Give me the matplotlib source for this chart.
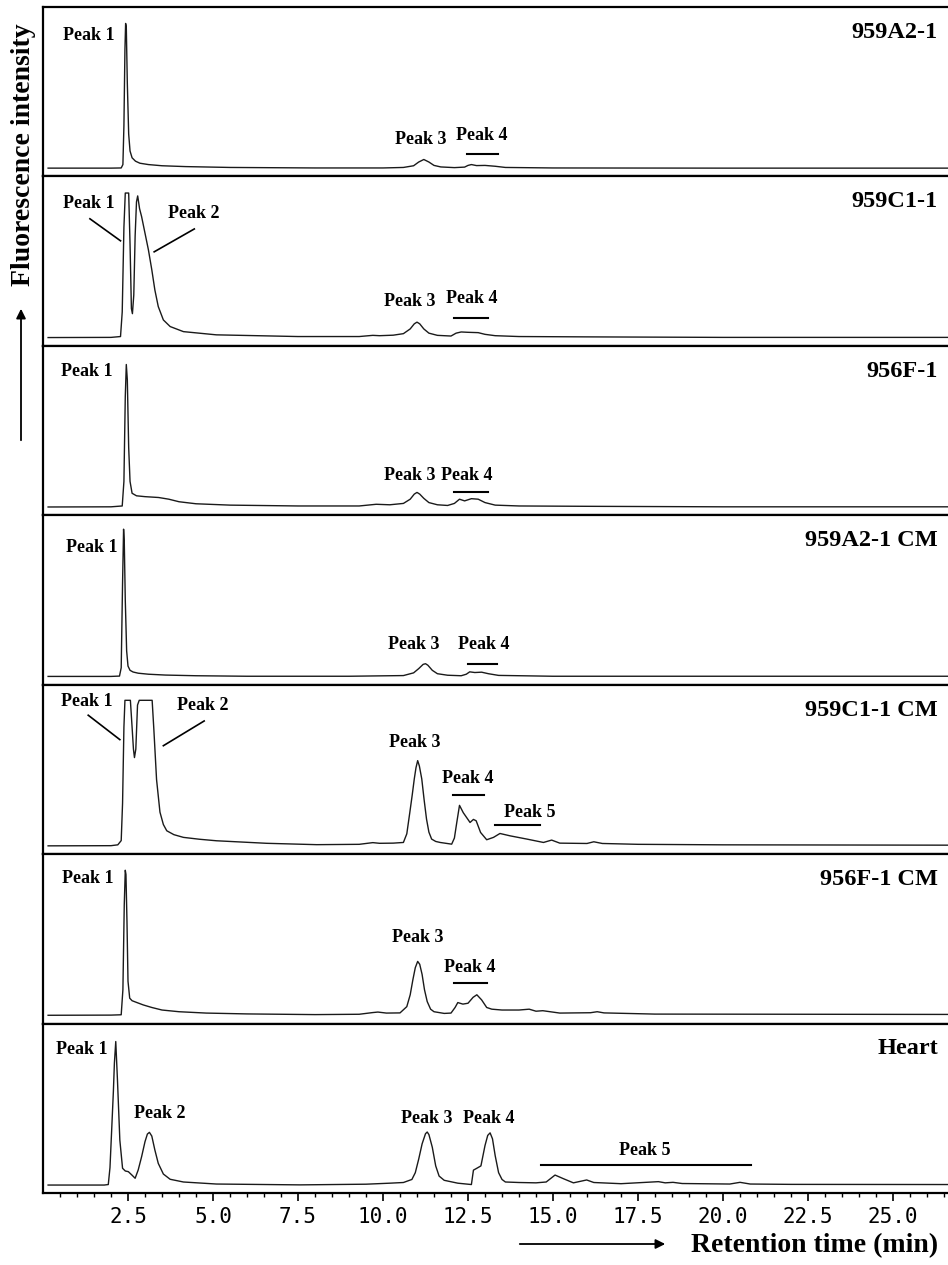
import matplotlib.pyplot as plt
import numpy as np

plt.rcParams['font.family'] = 'Liberation Serif'

samples = ["959A2-1", "959C1-1", "956F-1", "959A2-1 CM", "959C1-1 CM", "956F-1 CM", "Heart"]

# traces: time (min), intensity (% of panel height)
t_a2 = [0.15, 2.0, 2.3, 2.35, 2.38, 2.41, 2.43, 2.45, 2.48, 2.52, 2.56, 2.62, 2.72, 2.85, 3.1, 3.5, 4.2, 5.5,
        8.0, 10.0, 10.6, 10.9, 11.05, 11.2, 11.35, 11.5, 11.7, 12.1, 12.4, 12.5, 12.6, 12.75, 13.0, 13.3, 13.6,
        15.0, 20.0, 26.7]
y_a2 = [4.9, 4.9, 5.0, 7, 30, 75, 90.3, 88, 55, 25, 15, 11, 9, 7.8, 7, 6.3, 5.8, 5.3,
        5.0, 5.0, 5.3, 6.3, 8.5, 10, 8.5, 6.5, 5.6, 5.2, 5.5, 6.5, 7.0, 6.4, 6.5, 6.0, 5.3,
        5.0, 4.9, 4.9]

t_c1 = [0.15, 2.0, 2.28, 2.33, 2.38, 2.42, 2.47, 2.52, 2.56, 2.6, 2.63, 2.67, 2.71, 2.75, 2.785, 2.84, 2.9,
        3.0, 3.1, 3.2, 3.29, 3.39, 3.54, 3.74, 4.13, 5.1, 7.5, 9.3, 9.7, 9.9, 10.3, 10.6, 10.8, 10.92,
        11.0, 11.08, 11.2, 11.35, 11.6, 12.0, 12.15, 12.3, 12.5, 12.8, 13.0, 13.3, 14.0, 16.0, 20.0, 26.7]
y_c1 = [4.9, 5.0, 5.5, 20, 70, 90.2, 90.2, 90.2, 60, 22, 19, 30, 65, 85, 88.5, 81, 76.3,
        66.5, 56.7, 44.9, 33, 23.2, 15.3, 11.4, 8.4, 6.5, 5.5, 5.5, 6.2, 6.0, 6.3, 7.2, 10, 13,
        14, 13, 10, 7.5, 6.2, 5.8, 7.5, 8.2, 8.0, 7.8, 6.8, 6.0, 5.5, 5.3, 5.0, 5.0]

t_f1 = [0.15, 2.0, 2.33, 2.38, 2.42, 2.45, 2.48, 2.52, 2.56, 2.62, 2.75, 3.0, 3.4, 3.7, 4.0, 4.5, 5.5, 7.5,
        9.3, 9.8, 10.2, 10.6, 10.8, 10.92, 11.0, 11.08, 11.2, 11.35, 11.6, 11.9, 12.1, 12.25, 12.4, 12.6,
        12.8, 13.0, 13.3, 14.0, 16.0, 20.0, 26.7]
y_f1 = [4.9, 5.0, 5.5, 20, 70, 89, 80, 40, 20, 13, 11.5, 11, 10.5, 9.5, 8, 6.8, 6.0, 5.5,
        5.5, 6.5, 6.2, 7.0, 9.5, 12.5, 13.5, 12.5, 10, 7.5, 6.2, 5.8, 7.0, 9.5, 8.5, 9.8,
        9.5, 7.5, 6.0, 5.5, 5.3, 5.0, 5.0]

t_a2cm = [0.15, 2.0, 2.25, 2.3, 2.34, 2.37, 2.39, 2.42, 2.46, 2.5, 2.56, 2.65, 2.8, 3.1, 3.6, 4.5, 6.0, 9.0,
          10.6, 10.9, 11.05, 11.18, 11.25, 11.32, 11.45, 11.6, 11.9, 12.3, 12.45, 12.55, 12.7, 12.9, 13.1,
          13.4, 15.0, 26.7]
y_a2cm = [4.9, 4.9, 5.1, 10, 60, 91.8, 85, 50, 20, 11, 8.5, 7.5, 6.8, 6.2, 5.7, 5.3, 5.0, 5.0,
          5.4, 7.0, 9.5, 12, 12.4, 11.5, 8.5, 6.5, 5.6, 5.3, 6.2, 7.6, 7.2, 7.4, 6.5,
          5.5, 5.0, 5.0]

t_c1cm = [0.15, 2.0, 2.2, 2.3, 2.34, 2.38, 2.41, 2.49, 2.57, 2.62, 2.66, 2.69, 2.73, 2.78, 2.83, 3.0, 3.21,
          3.26, 3.34, 3.44, 3.54, 3.64, 3.85, 4.13, 4.6, 5.1, 6.58, 8.05, 9.3, 9.7, 9.9, 10.3, 10.6, 10.7,
          10.79, 10.86, 10.92, 10.97, 11.02, 11.07, 11.14, 11.21, 11.28, 11.35, 11.43, 11.55, 11.68, 12.02,
          12.1, 12.17, 12.25, 12.36, 12.56, 12.66, 12.74, 12.87, 13.05, 13.25, 13.44, 13.74, 14.23, 14.72,
          14.96, 15.2, 16.0, 16.2, 16.45, 17.5, 20.0, 26.7]
y_c1cm = [4.9, 5.0, 5.5, 8, 30, 75, 90.8, 90.8, 90.8, 75, 62, 57, 62, 88, 90.8, 90.8, 90.8,
          73.7, 44, 24.8, 17.5, 13.8, 11.5, 9.9, 8.8, 7.9, 6.4, 5.6, 5.8, 6.8, 6.4, 6.5, 6.9, 12,
          24.8, 35, 44.4, 51, 55.2, 52, 44.4, 32, 20.7, 13, 8.9, 7.5, 6.9, 5.9,
          9.5, 18.7, 28.8, 24.5, 18.7, 20.5, 19.7, 12.8, 8.5, 9.9, 12.2, 10.8, 8.9, 6.9,
          8.3, 6.5, 6.3, 7.3, 6.3, 5.8, 5.5, 5.3]

t_f1cm = [0.15, 2.0, 2.3, 2.35, 2.39, 2.42, 2.44, 2.47, 2.5, 2.55, 2.62, 2.75, 2.95, 3.2, 3.5, 4.0, 4.8, 6.0,
          8.0, 9.3, 9.7, 9.85, 10.1, 10.5, 10.7, 10.8, 10.88, 10.95, 11.02, 11.08, 11.15, 11.22, 11.3, 11.4,
          11.5, 11.8, 12.0, 12.12, 12.2, 12.35, 12.5, 12.65, 12.76, 12.9, 13.05, 13.2, 13.5, 14.0, 14.3,
          14.5, 14.7, 15.2, 16.1, 16.3, 16.5, 18.0, 26.7]
y_f1cm = [4.9, 5.0, 5.2, 20, 70, 90.5, 88, 60, 25, 15, 13.5, 12.5, 11, 9.5, 8, 7, 6.2, 5.7,
          5.3, 5.5, 6.5, 6.8, 6.2, 6.3, 10, 17, 26, 33, 36.7, 35, 29, 20, 13, 8.5,
          7, 6.0, 6.2, 9.5, 12.4, 11.5, 12, 15.5, 17, 14, 9.5, 8.5, 8.0, 8.0, 8.5,
          7.3, 7.6, 6.2, 6.4, 7.0, 6.3, 5.6, 5.4]

t_heart = [0.15, 1.8, 1.92, 1.97, 2.02, 2.07, 2.1, 2.14, 2.19, 2.26, 2.34, 2.42, 2.51, 2.62, 2.71, 2.8, 2.9,
           3.0, 3.07, 3.13, 3.2, 3.29, 3.39, 3.54, 3.74, 4.13, 5.1, 7.56, 9.5, 10.2, 10.6, 10.85, 10.95, 11.05,
           11.15, 11.25, 11.3, 11.35, 11.45, 11.55, 11.65, 11.8, 12.2, 12.6, 12.66, 12.75, 12.88, 13.0, 13.08,
           13.15, 13.22, 13.3, 13.4, 13.5, 13.6, 14.0, 14.5, 14.8, 15.06, 15.3, 15.6, 15.99, 16.2, 17.0,
           18.1, 18.3, 18.53, 18.8, 20.2, 20.5, 20.8, 22.0, 26.7]
y_heart = [4.7, 4.7, 5, 15, 37.3, 60, 76.7, 89.4, 66.7, 31.2, 14.6, 13, 12.6, 10.5, 8.7, 13.6, 21.4,
           30.3, 34.8, 35.8, 33.6, 25.4, 17.5, 11.2, 8.1, 6.5, 5.3, 4.8, 5.2, 5.8, 6.2, 8, 12, 20,
           29, 35, 36, 34.5, 27, 16, 10, 7.5, 5.8, 5.0, 13.5, 14.5, 16, 28, 34,
           35.5, 32, 22, 12, 8, 6.5, 6.2, 6.0, 6.5, 10.6, 8.5, 6.0, 7.7, 6.2, 5.5,
           6.7, 6.0, 6.3, 5.6, 5.3, 6.3, 5.3, 5.1, 5.0]

traces = [(t_a2, y_a2), (t_c1, y_c1), (t_f1, y_f1), (t_a2cm, y_a2cm),
          (t_c1cm, y_c1cm), (t_f1cm, y_f1cm), (t_heart, y_heart)]

# peak labels (text, time, height)
peak_labels = [
    [("Peak 1", 1.35, 83), ("Peak 3", 11.1, 22), ("Peak 4", 12.9, 24)],
    [("Peak 1", 1.35, 84), ("Peak 2", 4.42, 78), ("Peak 3", 10.8, 26), ("Peak 4", 12.6, 28)],
    [("Peak 1", 1.3, 84.7), ("Peak 3", 10.8, 23.5), ("Peak 4", 12.45, 23.5)],
    [("Peak 1", 1.44, 81), ("Peak 3", 10.9, 24), ("Peak 4", 12.95, 24)],
    [("Peak 1", 1.3, 90), ("Peak 2", 4.7, 87.6), ("Peak 3", 10.93, 65.9), ("Peak 4", 12.49, 44.6),
     ("Peak 5", 14.32, 24.5)],
    [("Peak 1", 1.32, 85.8), ("Peak 3", 11.03, 50.9), ("Peak 4", 12.56, 33)],
    [("Peak 1", 1.15, 84.5), ("Peak 2", 3.44, 47), ("Peak 3", 11.3, 44), ("Peak 4", 13.1, 44),
     ("Peak 5", 17.7, 25)],
]
# range bars (start, end, height)
peak_bars = [
    [(12.47, 13.38, 13)],
    [(12.1, 13.1, 16.5)],
    [(12.1, 13.1, 14)],
    [(12.5, 13.35, 12.4)],
    [(12.07, 12.97, 34.8), (13.3, 14.62, 17.3)],
    [(12.1, 13.06, 24)],
    [(14.64, 20.81, 16.5)],
]
# leader lines (t0, y0, t1, y1)
leaders = [
    [],
    [(1.38, 75, 2.28, 62), (4.45, 69, 3.27, 55.5)],
    [],
    [],
    [(1.33, 82, 2.26, 67.6), (4.74, 78.6, 3.54, 64)],
    [],
    [],
]

W, H = 948, 1265
fig = plt.figure(figsize=(W / 100, H / 100), dpi=100)
left = 43 / W
top = 1 - 7 / H
ph = 169.43 / H
xmax = (W - 43) / 34.0

for i, name in enumerate(samples):
    ax = fig.add_axes([left, top - (i + 1) * ph, 1 - left, ph])
    t, y = traces[i]
    ax.plot(t, y, color='#1a1a1a', lw=1.0)
    ax.set_xlim(0, xmax)
    ax.set_ylim(0, 100)
    ax.set_yticks([])
    for s in ['top', 'left', 'bottom']:
        ax.spines[s].set_linewidth(1.6)
    ax.spines['right'].set_visible(False)
    for txt, tx, ty in peak_labels[i]:
        ax.text(tx, ty, txt, ha='center', va='center', fontsize=13, fontweight='bold')
    for t0, t1, by in peak_bars[i]:
        ax.plot([t0, t1], [by, by], color='k', lw=1.5)
    for t0, y0, t1, y1 in leaders[i]:
        ax.plot([t0, t1], [y0, y1], color='k', lw=1.2)
    ax.text(26.32, 85, name, ha='right', va='center', fontsize=17.5, fontweight='bold')
    if i < len(samples) - 1:
        ax.set_xticks([])
    else:
        ax.set_xticks(np.arange(2.5, 25.1, 2.5))
        ax.set_xticks(np.arange(0.5, 26.6, 0.5), minor=True)
        ax.set_xticklabels(["%.1f" % v for v in np.arange(2.5, 25.1, 2.5)],
                           family='DejaVu Sans Mono', fontsize=15)
        ax.tick_params(axis='x', which='major', length=6, width=1.2, pad=4)
        ax.tick_params(axis='x', which='minor', length=3, width=1.0)

fig.text(24 / W, 1 - 155 / H, "Fluorescence intensity", rotation=90, ha='center', va='center',
         fontsize=20, fontweight='bold')
ax.annotate('', xy=(21 / W, 1 - 306 / H), xytext=(21 / W, 1 - 443 / H),
            xycoords='figure fraction', textcoords='figure fraction', annotation_clip=False,
            arrowprops=dict(arrowstyle='-|>', color='k', lw=1.3, mutation_scale=14))
fig.text(938 / W, 1 - 1246 / H, "Retention time (min)", ha='right', va='center',
         fontsize=20, fontweight='bold')
ax.annotate('', xy=(668 / W, 1 - 1244 / H), xytext=(517 / W, 1 - 1244 / H),
            xycoords='figure fraction', textcoords='figure fraction', annotation_clip=False,
            arrowprops=dict(arrowstyle='-|>', color='k', lw=1.3, mutation_scale=14))

fig.savefig("out.png", dpi=100)
